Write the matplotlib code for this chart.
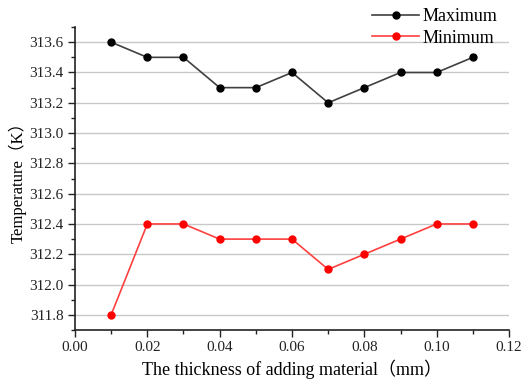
import matplotlib
matplotlib.use("Agg")
import matplotlib.pyplot as plt
from matplotlib.ticker import MultipleLocator, FormatStrFormatter

thickness = [0.01, 0.02, 0.03, 0.04, 0.05, 0.06, 0.07, 0.08, 0.09, 0.10, 0.11]
maximum = [313.6, 313.5, 313.5, 313.3, 313.3, 313.4, 313.2, 313.3, 313.4, 313.4, 313.5]
minimum = [311.8, 312.4, 312.4, 312.3, 312.3, 312.3, 312.1, 312.2, 312.3, 312.4, 312.4]

fam = ['Liberation Serif', 'Noto Sans CJK SC']
plt.rcParams['font.family'] = fam

fig = plt.figure(figsize=(5.31, 3.81), dpi=100)
ax = fig.add_axes([0.1412, 0.1339, 0.8174, 0.7951])

ax.plot(thickness, maximum, color='#404040', lw=1.2, marker='o', ms=5,
        mfc='black', mec='black', label='Maximum', zorder=3)
ax.plot(thickness, minimum, color='#ff4040', lw=1.2, marker='o', ms=5,
        mfc='red', mec='red', label='Minimum', zorder=3)

ax.set_xlim(0, 0.12)
ax.set_ylim(311.7, 313.7)
ax.xaxis.set_major_locator(MultipleLocator(0.02))
ax.xaxis.set_minor_locator(MultipleLocator(0.01))
ax.yaxis.set_major_locator(MultipleLocator(0.2))
ax.yaxis.set_minor_locator(MultipleLocator(0.1))
ax.xaxis.set_major_formatter(FormatStrFormatter('%.2f'))
ax.yaxis.set_major_formatter(FormatStrFormatter('%.1f'))

ax.grid(axis='y', which='major', color='#c8c8c8', lw=1.0, zorder=0)
ax.set_axisbelow(True)

for s in ['top', 'right']:
    ax.spines[s].set_visible(False)
for s in ['left', 'bottom']:
    ax.spines[s].set_linewidth(1.2)
    ax.spines[s].set_color('#222222')

ax.tick_params(which='major', direction='out', length=5, width=1, labelsize=11, colors='#222222')
ax.tick_params(which='minor', direction='out', length=3, width=1, colors='#222222')
ax.tick_params(axis='x', pad=3)
ax.tick_params(axis='y', pad=3)

ax.set_xlabel('The thickness of adding material（mm）', fontsize=13, labelpad=4)
ax.set_ylabel('Temperature（K）', fontsize=12, labelpad=2)

leg = ax.legend(loc='upper left', bbox_to_anchor=(0.685, 1.062), frameon=False,
                fontsize=13, handlelength=2.6, handletextpad=0.2, labelspacing=0.25,
                borderaxespad=0, borderpad=0)

fig.savefig('out.png', dpi=100)
